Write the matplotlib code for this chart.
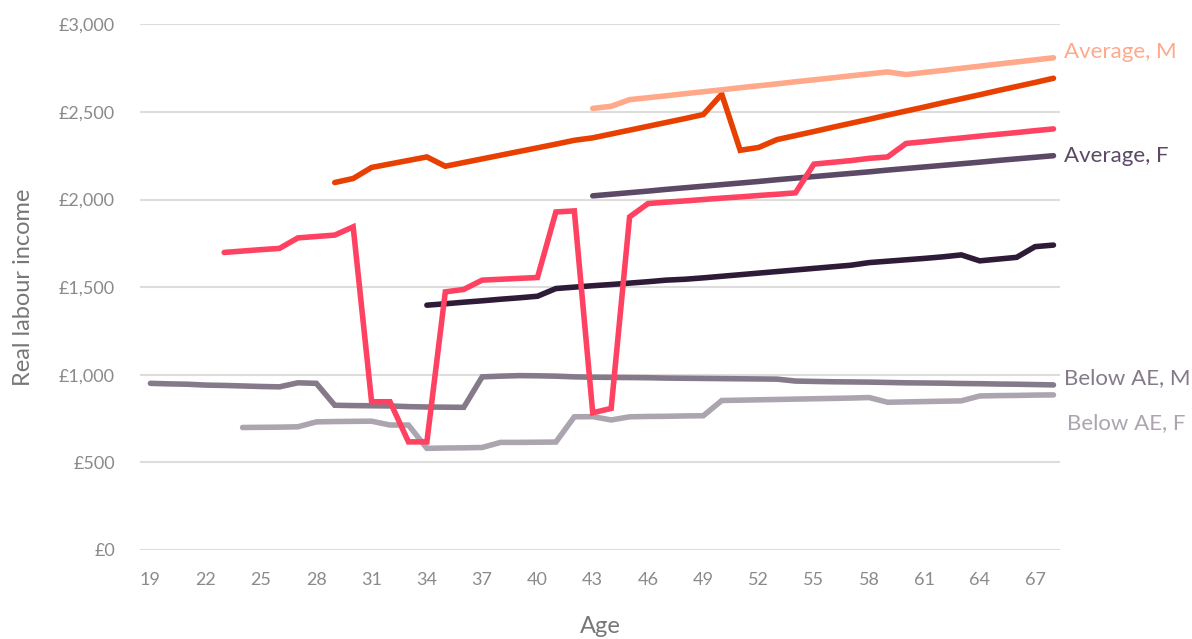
import numpy as np
import matplotlib.pyplot as plt

plt.rcParams['font.family'] = ['Lato', 'DejaVu Sans']

# Average earners
avg_m_ages = np.arange(43, 69)
avg_m = [2520, 2532, 2570, 2581, 2592, 2604, 2615, 2626, 2638, 2649, 2660,
         2672, 2683, 2694, 2706, 2717, 2728, 2713, 2725, 2737, 2749, 2761,
         2773, 2785, 2797, 2809]

avg_f_ages = np.arange(43, 69)
avg_f = [2021, 2030, 2039, 2048, 2058, 2067, 2076, 2085, 2094, 2103, 2113,
         2122, 2131, 2140, 2149, 2158, 2168, 2177, 2186, 2195, 2204, 2213,
         2223, 2232, 2241, 2250]

# Other male / female profiles
high_m_ages = np.arange(29, 69)
high_m = [2097, 2120, 2183, 2203, 2223, 2243, 2190, 2211, 2232, 2253, 2274,
          2295, 2316, 2338, 2352, 2374, 2396, 2418, 2440, 2462, 2485, 2601,
          2281, 2297, 2342, 2365, 2388, 2412, 2435, 2458, 2482, 2505, 2528,
          2552, 2575, 2598, 2622, 2645, 2668, 2692]

high_f_ages = np.arange(23, 69)
high_f = [1698, 1706, 1714, 1721, 1781, 1789, 1797, 1844, 846, 846, 617, 617,
          1473, 1487, 1540, 1545, 1550, 1555, 1929, 1935, 783, 808, 1901, 1977,
          1985, 1992, 2000, 2008, 2015, 2023, 2030, 2038, 2202, 2212, 2222,
          2235, 2243, 2320, 2330, 2341, 2351, 2362, 2372, 2382, 2393, 2403]

mid_ages = np.arange(34, 69)
mid = [1397, 1405, 1414, 1422, 1431, 1439, 1448, 1492, 1500, 1508, 1515,
       1523, 1531, 1540, 1545, 1553, 1562, 1571, 1580, 1589, 1598, 1607,
       1616, 1625, 1640, 1648, 1656, 1664, 1673, 1684, 1650, 1660, 1670,
       1731, 1740]

# Below average earnings
below_m_ages = np.arange(19, 69)
below_m = [951, 948, 946, 941, 939, 936, 933, 931, 954, 951, 826, 824, 823,
           822, 818, 816, 815, 814, 988, 992, 995, 994, 992, 988, 986, 985,
           984, 983, 981, 980, 979, 978, 977, 976, 975, 964, 962, 960, 959,
           958, 956, 954, 953, 952, 950, 949, 947, 946, 944, 942]

below_f_ages = np.arange(24, 69)
below_f = [699, 700, 701, 703, 731, 733, 734, 735, 713, 713, 580, 582, 583,
           585, 614, 614, 615, 616, 760, 761, 742, 760, 762, 763, 765, 766,
           853, 855, 857, 859, 861, 863, 865, 867, 870, 843, 845, 847, 849,
           851, 879, 881, 882, 884, 885]

y_ticks = [0, 500, 1000, 1500, 2000, 2500, 3000]
x_ticks = np.arange(19, 68, 3)

c_avg_m = '#ffa98a'
c_high_m = '#e84000'
c_high_f = '#ff4261'
c_avg_f = '#5b4965'
c_mid = '#2e1b38'
c_below_m = '#857a8a'
c_below_f = '#aca5af'

fig = plt.figure(figsize=(11.92, 6.39), dpi=100)
ax = fig.add_axes([0.1174, 0.1393, 0.7718, 0.8227])

lw = 4
series = [
    (below_f_ages, below_f, c_below_f),
    (below_m_ages, below_m, c_below_m),
    (mid_ages, mid, c_mid),
    (avg_f_ages, avg_f, c_avg_f),
    (high_f_ages, high_f, c_high_f),
    (high_m_ages, high_m, c_high_m),
    (avg_m_ages, avg_m, c_avg_m),
]
for x, y, c in series:
    ax.plot(x, y, color=c, lw=lw, solid_capstyle='round', solid_joinstyle='miter')

ax.set_xlim(18.43, 68.35)
ax.set_ylim(0, 3000)
ax.set_yticks(y_ticks)
ax.set_yticklabels([f'£{v:,}' for v in y_ticks])
ax.set_xticks(x_ticks)
ax.grid(axis='y', color='#dddddd', lw=1.5)
ax.set_axisbelow(True)
for s in ax.spines.values():
    s.set_visible(False)
ax.tick_params(axis='both', length=0, labelsize=13, labelcolor='#8a8a8a')
ax.tick_params(axis='y', pad=18)
ax.tick_params(axis='x', pad=16)
ax.set_xlabel('Age', fontsize=17, color='#777777', labelpad=20)
ax.set_ylabel('Real labour income', fontsize=17, color='#777777', labelpad=18)

labels = [
    ('Average, M', avg_m[-1], c_avg_m, 7.6, 3.9),
    ('Average, F', avg_f[-1], c_avg_f, 7.6, 0),
    ('Below AE, M', below_m[-1], c_below_m, 7.6, 4.8),
    ('Below AE, F', below_f[-1], c_below_f, 10, -20),
]
for text, v, c, dx, dy in labels:
    ax.annotate(text, xy=(68, v), xytext=(dx, dy), textcoords='offset points',
                ha='left', va='center', fontsize=16, color=c, annotation_clip=False)

fig.savefig('out.png', dpi=100)
